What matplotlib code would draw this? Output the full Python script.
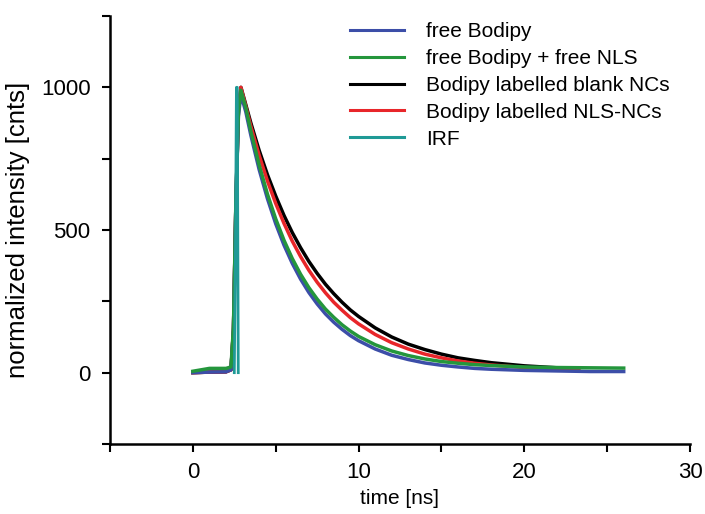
import matplotlib
matplotlib.use("Agg")
import matplotlib.pyplot as plt
from matplotlib.ticker import MultipleLocator

plt.rcParams['font.family'] = ['Liberation Sans', 'DejaVu Sans']

# time axis [ns]
t = [0, 1, 2, 2.3, 2.45, 2.6, 2.75, 2.9, 3.2, 3.5, 4, 4.5, 5, 5.5, 6, 6.5, 7, 7.5,
     8, 8.5, 9, 9.5, 10, 11, 12, 13, 14, 15, 16, 17, 18, 20, 22, 24, 26]

free_bodipy = [0, 2, 3, 10, 150, 600, 900, 975, 913, 832, 712, 610, 522, 447, 383, 328,
               281, 241, 206, 177, 152, 130, 112, 83, 61, 46, 34, 26, 20, 15, 12, 8, 6, 4, 4]
free_bodipy_nls = [5, 15, 15, 20, 160, 610, 910, 990, 927, 846, 728, 626, 539, 464, 400, 345,
                   298, 258, 223, 194, 168, 146, 127, 98, 76, 60, 48, 39, 33, 28, 25, 20, 18, 17, 16]

t_red = t[:31] + [20, 22, 23.3]
nls_ncs = [0, 2, 3, 10, 150, 600, 920, 1000, 932, 864, 762, 672, 593, 523, 461, 407,
           359, 317, 280, 247, 219, 193, 171, 134, 105, 83, 65, 52, 41, 33, 27, 18, 13, 11]

t_black = t[:31] + [20, 22]
blank_ncs = [0, 2, 3, 10, 150, 600, 920, 1000, 938, 875, 779, 694, 619, 551, 491, 438,
             390, 348, 310, 277, 247, 220, 197, 157, 125, 100, 81, 65, 52, 43, 35, 24, 17]

t_irf = [2.5, 2.58, 2.63, 2.68, 2.74]
irf = [0, 500, 1000, 1000, 0]

fig = plt.figure(figsize=(7.05, 5.14), dpi=100)
ax = fig.add_axes([110/705, 1-444/514, 580/705, 428/514])

ax.plot(t_black, blank_ncs, color='black', lw=2.5)
ax.plot(t_red, nls_ncs, color='#e8262a', lw=2.5)
ax.plot(t, free_bodipy, color='#3c4ea8', lw=2.5)
ax.plot(t, free_bodipy_nls, color='#24963c', lw=2.5)
ax.plot(t_irf, irf, color='#1f9a96', lw=2)

# legend handles in the original order
h1, = ax.plot([], [], color='#3c4ea8', lw=2.2)
h2, = ax.plot([], [], color='#24963c', lw=2.2)
h3, = ax.plot([], [], color='black', lw=2.2)
h4, = ax.plot([], [], color='#e8262a', lw=2.2)
h5, = ax.plot([], [], color='#1f9a96', lw=2.2)
ax.legend([h1, h2, h3, h4, h5],
          ['free Bodipy', 'free Bodipy + free NLS', 'Bodipy labelled blank NCs',
           'Bodipy labelled NLS-NCs', 'IRF'],
          loc='upper left', bbox_to_anchor=(350/705, 1-22/514),
          bbox_transform=fig.transFigure, frameon=False, fontsize=15,
          handlelength=2.6, handletextpad=1.05, labelspacing=0.38, borderpad=0,
          borderaxespad=0)

ax.set_xlim(-5, 30)
ax.set_ylim(-250, 1250)
ax.set_xticks([0, 10, 20, 30])
ax.xaxis.set_minor_locator(MultipleLocator(5))
ax.set_yticks([0, 500, 1000])
ax.yaxis.set_minor_locator(MultipleLocator(250))
ax.tick_params(which='both', direction='out', length=6, width=1.5, labelsize=16)
ax.tick_params(axis='x', pad=7)
ax.tick_params(axis='y', pad=8)

for s in ['top', 'right']:
    ax.spines[s].set_visible(False)
for s in ['left', 'bottom']:
    ax.spines[s].set_linewidth(1.8)

ax.set_xlabel('time [ns]', fontsize=15, labelpad=4)
ax.set_ylabel('normalized intensity [cnts]', fontsize=18.5, labelpad=8)

fig.savefig('out.png', dpi=100)
